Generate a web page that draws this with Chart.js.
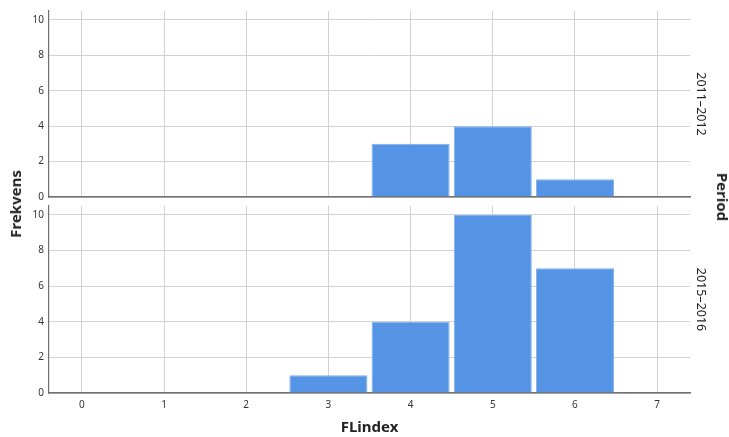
<!DOCTYPE html>
<html>
<head>
<meta charset="utf-8">
<script src="https://cdn.jsdelivr.net/npm/chart.js@4/dist/chart.umd.min.js"></script>
<style>
  html, body { margin: 0; padding: 0; background: #fff; }
  #wrap { position: relative; width: 729px; height: 437px; font-family: "Noto Sans", "DejaVu Sans", sans-serif; }
  .box { position: absolute; left: 0; width: 729px; }
  .vlab { position: absolute; font-weight: bold; font-size: 15px; color: #222; white-space: nowrap; }
</style>
</head>
<body>
<div id="wrap">
  <div class="box" style="top:0;height:208px"><canvas id="top-chart"></canvas></div>
  <div class="box" style="top:195px;height:242px"><canvas id="bot-chart"></canvas></div>
  <div class="vlab" style="left:15px;top:204px;transform:translate(-50%,-50%) rotate(-90deg)">Frekvens</div>
  <div class="vlab" style="left:723px;top:197px;transform:translate(-50%,-50%) rotate(90deg)">Period</div>
</div>
<script>
const flIndex   = [0, 1, 2, 3, 4, 5, 6, 7];
const period1   = [0, 0, 0, 0, 3, 4, 1, 0];
const period2   = [0, 0, 0, 1, 4, 10, 7, 0];
const periods   = ['2011–2012', '2015–2016'];
const xTitle    = 'FLindex';

const FONT = '"Noto Sans", "DejaVu Sans", sans-serif';
const BAR  = '#5594E4';
const GRID = '#d2d2d2';
const AXIS = '#707070';

function pts(vals) {
    return flIndex.map((x, i) => ({ x: x, y: vals[i] }));
}

// bottom = the lower panel, which carries the x tick labels and title
function mkOpts(label, bottom) {
    return {
        responsive: true,
        maintainAspectRatio: false,
        animation: false,
        layout: { padding: { top: 8, left: 0, right: 0, bottom: 0 } },
        plugins: { legend: { display: false }, tooltip: { enabled: false } },
        scales: {
            x: {
                type: 'linear', min: -0.4, max: 7.4, offset: false,
                ticks: { display: bottom, stepSize: 1, includeBounds: false, color: '#333',
                         font: { family: FONT, size: 10 }, padding: 6 },
                grid: { color: GRID, offset: false, drawTicks: false },
                border: { color: AXIS, width: 1.5 },
                title: { display: bottom, text: xTitle, color: '#222',
                         font: { family: FONT, size: 15, weight: 'bold' }, padding: { top: 8, bottom: 0 } },
                afterFit: s => { s.height = bottom ? 44 : 11; }
            },
            y: {
                min: 0, max: 10.5,
                ticks: { stepSize: 2, includeBounds: false, color: '#333',
                         font: { family: FONT, size: 10 }, padding: 5 },
                grid: { color: GRID, drawTicks: false },
                border: { color: AXIS, width: 1.2 },
                afterFit: s => { s.width = 49; }
            },
            yr: {
                position: 'right', min: 0, max: 10.5,
                ticks: { display: false },
                grid: { display: false, drawTicks: false },
                border: { display: false },
                title: { display: true, text: label, color: '#222',
                         font: { family: FONT, size: 12.5 }, padding: { top: 21, bottom: 0 } },
                afterFit: s => { s.width = 39; }
            }
        }
    };
}

function mkChart(id, vals, label, bottom) {
    return new Chart(document.getElementById(id), {
        type: 'bar',
        data: {
            datasets: [{
                data: pts(vals),
                backgroundColor: BAR,
                borderColor: '#7fb0ee',
                borderWidth: 1,
                barPercentage: 0.95,
                categoryPercentage: 1
            }]
        },
        options: mkOpts(label, bottom)
    });
}

mkChart('top-chart', period1, periods[0], false);
mkChart('bot-chart', period2, periods[1], true);
</script>
</body>
</html>
